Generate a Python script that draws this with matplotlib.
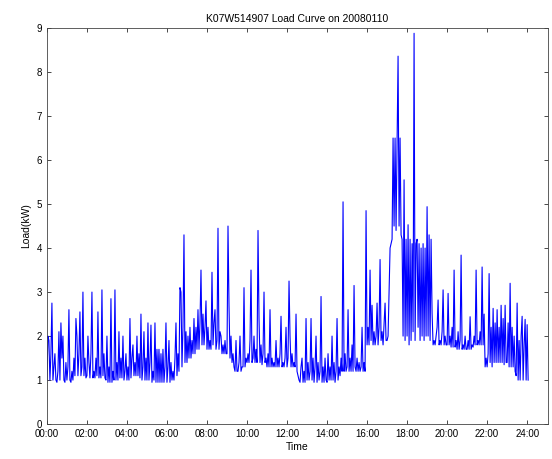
import numpy as np
import matplotlib
matplotlib.use("Agg")
import matplotlib.pyplot as plt

plt.rcParams['font.family'] = ['Liberation Sans', 'DejaVu Sans']

# load readings, 3 minute samples, one row per hour (kW)
load_kw = [
    1.0, 2.0, 1.9, 1.0, 1.6, 2.75, 1.0, 1.3, 1.6, 1.0, 0.95, 1.2, 2.1, 1.0, 2.3, 1.5, 2.0, 1.0, 0.95, 1.4,
    1.0, 1.3, 2.6, 1.0, 0.95, 1.2, 1.0, 1.5, 1.1, 2.4, 2.0, 1.1, 1.6, 2.55, 1.1, 1.3, 3.0, 1.1, 1.5, 1.05,
    1.1, 2.0, 1.4, 1.05, 1.6, 3.0, 1.05, 1.2, 1.05, 1.5, 1.1, 2.55, 1.05, 1.3, 1.05, 3.05, 1.1, 1.6, 1.05, 1.0,
    2.0, 0.95, 1.3, 0.95, 2.85, 0.95, 1.2, 1.0, 3.05, 1.0, 1.4, 1.0, 2.1, 1.05, 1.5, 1.05, 2.0, 1.0, 1.2, 1.6,
    1.0, 1.3, 1.0, 2.4, 1.05, 1.5, 1.8, 1.1, 1.4, 1.1, 2.0, 1.1, 1.6, 1.05, 2.5, 1.0, 1.3, 2.1, 1.0, 1.5,
    1.0, 2.3, 1.0, 1.4, 2.25, 0.95, 1.2, 1.0, 2.3, 0.95, 1.7, 0.95, 1.7, 0.95, 1.6, 0.95, 1.7, 0.95, 1.3, 2.3,
    0.95, 1.3, 1.9, 0.95, 1.4, 1.0, 1.2, 1.0, 1.5, 2.3, 1.1, 1.6, 1.2, 3.1, 3.0, 1.3, 2.2, 4.3, 1.4, 2.1,
    1.4, 2.0, 1.5, 2.2, 1.5, 1.9, 1.6, 2.4, 1.6, 2.2, 1.7, 2.6, 1.7, 2.3, 3.5, 1.8, 2.5, 1.8, 2.2, 2.8,
    1.7, 2.2, 1.7, 1.9, 1.7, 3.45, 1.8, 2.3, 2.6, 1.7, 1.9, 4.45, 1.7, 2.1, 2.0, 1.6, 1.8, 1.6, 1.9, 1.6,
    1.6, 4.5, 2.7, 1.5, 2.0, 1.4, 1.6, 1.3, 1.2, 1.9, 1.2, 1.2, 1.4, 2.0, 1.2, 1.3, 1.3, 3.1, 1.3, 1.5,
    1.4, 1.6, 1.4, 1.9, 3.5, 1.4, 1.5, 2.0, 1.4, 1.7, 1.4, 4.4, 2.4, 1.4, 1.8, 1.35, 1.6, 3.0, 1.4, 1.5,
    1.3, 1.6, 1.3, 2.6, 1.3, 1.5, 1.3, 1.4, 1.3, 1.9, 1.3, 1.5, 1.3, 1.6, 2.45, 1.3, 1.4, 1.3, 1.5, 2.2,
    1.3, 1.5, 3.25, 2.0, 1.3, 1.6, 1.3, 1.4, 1.3, 2.5, 1.2, 1.1, 1.0, 0.95, 1.3, 1.5, 0.95, 1.2, 0.95, 2.4,
    1.0, 1.4, 1.0, 1.2, 2.4, 1.0, 1.5, 0.95, 1.3, 2.0, 0.95, 1.4, 1.0, 1.2, 2.9, 0.95, 1.3, 0.95, 1.5, 1.0,
    0.95, 1.6, 1.0, 1.3, 1.0, 2.0, 1.0, 1.4, 0.95, 1.2, 2.4, 1.0, 1.3, 1.1, 1.5, 1.2, 5.05, 1.2, 1.6, 1.2,
    1.3, 2.6, 1.2, 1.5, 1.2, 1.8, 1.2, 3.15, 1.3, 1.2, 1.5, 1.2, 1.4, 1.2, 1.3, 2.2, 1.2, 1.4, 1.2, 4.85,
    1.8, 2.2, 1.8, 3.5, 1.9, 2.7, 1.8, 2.1, 1.8, 2.0, 2.75, 1.8, 2.2, 3.74, 1.9, 2.1, 1.8, 2.3, 2.75, 1.9,
    1.9, 2.0, 2.95, 4.0, 4.1, 4.2, 6.5, 4.5, 6.5, 4.4, 6.45, 8.36, 4.5, 6.5, 4.3, 4.2, 2.0, 5.55, 1.9, 4.2,
    2.0, 4.53, 1.8, 4.2, 1.9, 4.1, 2.1, 8.88, 1.9, 4.1, 4.2, 2.2, 4.1, 1.9, 4.0, 2.0, 4.1, 1.9, 4.0, 2.0,
    4.94, 2.0, 4.3, 1.9, 4.2, 2.52, 1.8, 1.9, 1.8, 2.0, 2.2, 2.82, 1.8, 1.9, 1.8, 2.1, 3.05, 1.8, 2.0, 1.8,
    1.8, 2.97, 1.8, 2.0, 1.75, 2.2, 1.75, 3.5, 1.75, 1.9, 1.7, 2.1, 1.7, 1.9, 3.84, 1.7, 1.8, 1.7, 2.0, 1.7,
    1.7, 1.9, 1.7, 2.44, 1.7, 1.8, 1.75, 2.0, 1.8, 3.5, 1.8, 1.9, 1.8, 2.1, 1.8, 3.57, 1.8, 2.5, 1.3, 1.5,
    1.3, 1.6, 3.42, 1.4, 2.2, 1.3, 2.63, 1.4, 2.3, 1.4, 2.6, 1.4, 2.2, 1.4, 2.7, 1.4, 2.4, 1.35, 2.7, 1.4,
    1.4, 2.3, 1.3, 3.2, 1.3, 2.2, 1.3, 2.0, 1.2, 1.1, 2.75, 1.0, 1.9, 1.0, 2.0, 2.45, 1.0, 1.8, 2.38, 1.0,
    2.26, 1.0,
]
hours = np.arange(len(load_kw)) * 0.05

tick_hours = list(range(0, 25, 2))
tick_labels = ['%02d:00' % h for h in tick_hours]

fig = plt.figure(figsize=(5.52, 4.59), dpi=100)
ax = fig.add_axes([0.085, 0.076, 0.908, 0.863])
ax.plot(hours, load_kw, color='#0000ff', lw=0.8)

ax.set_xlim(0, 25.05)
ax.set_ylim(0, 9)
ax.set_xticks(tick_hours)
ax.set_xticklabels(tick_labels)
ax.set_yticks(range(0, 10))
ax.tick_params(direction='in', top=True, right=True, labelsize=7, length=3, width=0.5)
for s in ax.spines.values():
    s.set_linewidth(0.6)
    s.set_color('#444444')

ax.set_title('K07W514907 Load Curve on 20080110', fontsize=7.5, pad=4)
ax.set_xlabel('Time', fontsize=7.5, labelpad=2)
ax.set_ylabel('Load(kW)', fontsize=7.5, labelpad=4)

fig.savefig('out.png', dpi=100)
